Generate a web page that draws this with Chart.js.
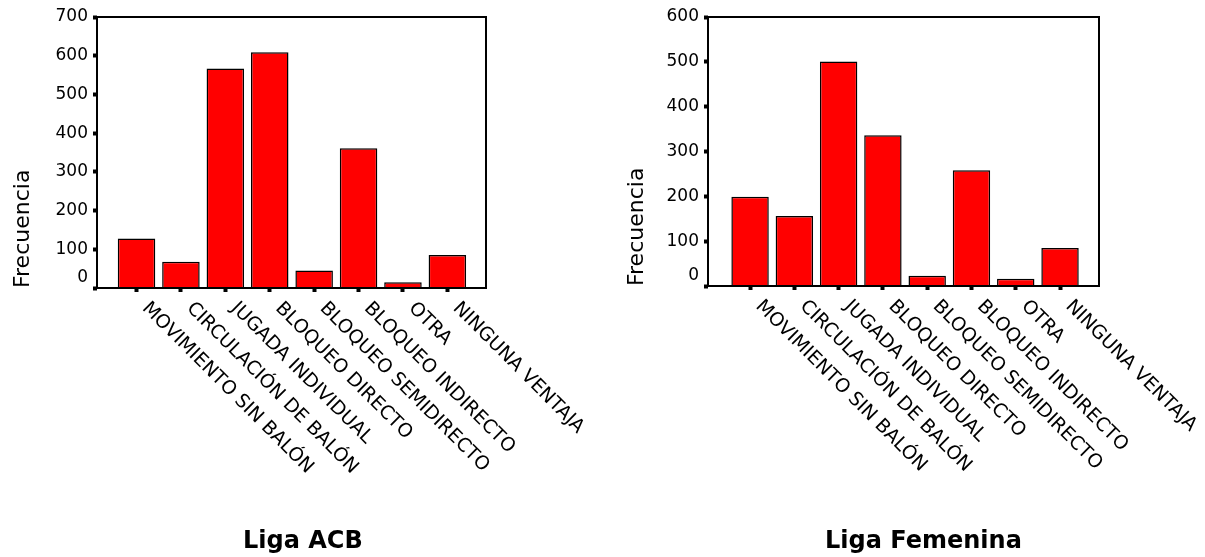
<!DOCTYPE html>
<html>
<head>
<meta charset="utf-8">
<script src="https://cdn.jsdelivr.net/npm/chart.js@4/dist/chart.umd.min.js"></script>
<style>
  html, body { margin: 0; padding: 0; background: #fff; }
  body { width: 1205px; height: 557px; position: relative; overflow: hidden; }
  canvas { position: absolute; top: 0; }
  #c1 { left: 0; }
  #c2 { left: 614px; }
</style>
</head>
<body>
<canvas id="c1" width="600" height="557"></canvas>
<canvas id="c2" width="591" height="557"></canvas>
<script>
// ---- data ----
const categories = ['MOVIMIENTO SIN BALÓN', 'CIRCULACIÓN DE BALÓN', 'JUGADA INDIVIDUAL', 'BLOQUEO DIRECTO',
  'BLOQUEO SEMIDIRECTO', 'BLOQUEO INDIRECTO', 'OTRA', 'NINGUNA VENTAJA'];
const acbValues = [128, 68, 567, 609, 45, 361, 15, 85];
const femValues = [199, 156, 501, 336, 23, 258, 16, 85];
const acbTicks = [0, 100, 200, 300, 400, 500, 600, 700];
const femTicks = [0, 100, 200, 300, 400, 500, 600];
const yTitle = 'Frecuencia';
const acbTitle = 'Liga ACB';
const femTitle = 'Liga Femenina';

const FONT = '"DejaVu Sans", sans-serif';

function makeChart(canvasId, values, ticks, title, cfg) {
  const decor = {
    id: 'decor' + canvasId,
    afterDatasetsDraw(chart) {
      const ctx = chart.ctx, a = chart.chartArea;
      ctx.save();
      ctx.strokeStyle = '#000';
      ctx.lineWidth = 2;
      ctx.strokeRect(Math.round(a.left), Math.round(a.top), Math.round(a.right) - Math.round(a.left), Math.round(a.bottom) - Math.round(a.top));
      ctx.restore();
    },
    afterDraw(chart) {
      const ctx = chart.ctx, a = chart.chartArea, xs = chart.scales.x;
      ctx.save();
      ctx.fillStyle = '#000';
      ctx.font = '19px ' + FONT;
      ctx.textAlign = 'left';
      ctx.textBaseline = 'alphabetic';
      categories.forEach((c, i) => {
        const px = xs.getPixelForValue(i);
        ctx.save();
        ctx.translate(px + 5, a.bottom + 21);
        ctx.rotate(Math.PI / 4);
        ctx.fillText(c, 0, 0);
        ctx.restore();
      });
      ctx.font = 'bold 24px ' + FONT;
      ctx.fillText(title, cfg.titleX, 548);
      ctx.restore();
    }
  };
  return new Chart(document.getElementById(canvasId), {
    type: 'bar',
    data: {
      datasets: [{
        data: values.map((v, i) => ({ x: i, y: v })),
        backgroundColor: '#ff0000',
        borderColor: '#000',
        borderWidth: 1.5,
        barPercentage: 0.845,
        categoryPercentage: 1
      }]
    },
    options: {
      responsive: false,
      animation: false,
      devicePixelRatio: 1,
      layout: { padding: { left: 0, top: 17, right: cfg.padRight, bottom: 0 } },
      plugins: { legend: { display: false }, tooltip: { enabled: false }, title: { display: false } },
      scales: {
        x: {
          type: 'linear',
          min: cfg.xMin,
          max: cfg.xMax,
          offset: false,
          border: { display: false },
          grid: { display: true, offset: false, drawOnChartArea: false, drawTicks: true, tickLength: 4, tickWidth: 4, tickColor: '#000' },
          ticks: { display: false, autoSkip: false },
          afterBuildTicks: (s) => { s.ticks = categories.map((c, i) => ({ value: i })); },
          afterFit: (s) => { s.height = cfg.xHeight; }
        },
        y: {
          min: 0,
          max: ticks[ticks.length - 1],
          border: { display: false },
          grid: { display: true, drawOnChartArea: false, drawTicks: true, tickLength: 4, tickWidth: 4, tickColor: '#000' },
          afterBuildTicks: (s) => { s.ticks = ticks.map(v => ({ value: v })); },
          ticks: {
            autoSkip: false,
            padding: 5,
            color: '#000',
            font: { family: FONT, size: 17 },
            callback: (v) => (v === 0 ? ['0', ''] : String(v))
          },
          title: {
            display: true,
            text: yTitle,
            align: 'start',
            color: '#000',
            font: { family: FONT, size: 22 },
            padding: { top: cfg.titlePad, bottom: 0 }
          },
          afterFit: (s) => { s.width = cfg.yWidth; }
        }
      }
    },
    plugins: [decor]
  });
}

makeChart('c1', acbValues, acbTicks, acbTitle, {
  padRight: 114, xHeight: 269, yWidth: 97, xMin: -0.89, xMax: 7.87, titlePad: 10, titleX: 243
});
makeChart('c2', femValues, femTicks, femTitle, {
  padRight: 106, xHeight: 271, yWidth: 94, xMin: -0.95, xMax: 7.88, titlePad: 10, titleX: 211
});
</script>
</body>
</html>
